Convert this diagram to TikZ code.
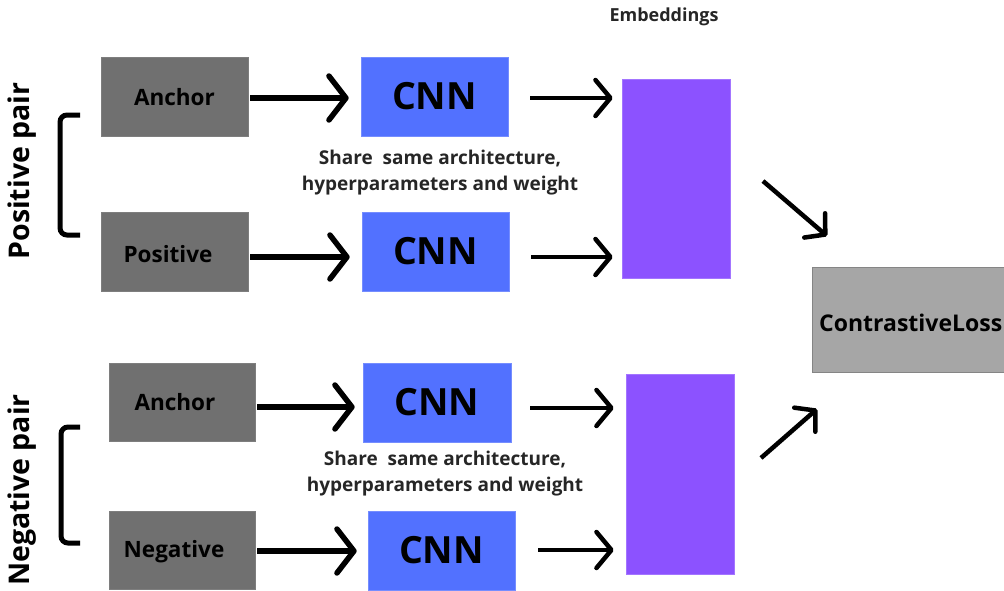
\documentclass[tikz,border=0pt]{standalone}
\usepackage{fontspec}
\setmainfont{Open Sans}
\usetikzlibrary{arrows.meta}
\definecolor{inputgray}{HTML}{707070}
\definecolor{cnnblue}{HTML}{5271FF}
\definecolor{embviolet}{HTML}{8C52FF}
\definecolor{lossgray}{HTML}{A6A6A6}
\tikzset{
  inputbox/.style={draw=inputgray!90!white, fill=inputgray, line width=0.6pt, minimum width=147pt, minimum height=79pt, inner sep=0pt},
  inputtext/.style={inner sep=0pt, font=\bfseries\fontsize{22.5}{26}\selectfont},
  cnnbox/.style={draw=cnnblue!80!white, fill=cnnblue, line width=0.6pt, minimum width=147pt, minimum height=79pt, inner sep=0pt, font=\bfseries\fontsize{37.5}{42}\selectfont},
  embbox/.style={draw=embviolet!80!white, fill=embviolet, line width=0.6pt, minimum width=108pt, minimum height=199pt, inner sep=0pt},
  sharenote/.style={align=center, inner sep=0pt, font=\bfseries\fontsize{19}{26}\selectfont, text=black!85},
  bigarrow/.style={line width=5.5pt, -{Straight Barb[length=17pt,width=44pt,line cap=round,line join=round]}},
  smallarrow/.style={line width=4.5pt, -{Straight Barb[length=15pt,width=36pt,line cap=round,line join=round]}},
  pairbracket/.style={line width=5pt, rounded corners=7pt},
  pairlabel/.style={rotate=90, inner sep=0pt, font=\bfseries\fontsize{28.5}{32}\selectfont}
}
\begin{document}
\begin{tikzpicture}[x=1pt, y=-1pt]
\useasboundingbox (0,0) rectangle (1004,590);
\clip (0,0) rectangle (1004,590);

% loss box runs off the right edge
\node[draw=lossgray!80!black, fill=lossgray, line width=0.6pt, minimum width=200pt, minimum height=105pt, inner sep=0pt] (loss) at (912,319.5) {};
\node[anchor=west, inner sep=0pt, font=\bfseries\fontsize{23}{26}\selectfont] (losstext) at (819,323) {ContrastiveLoss};

% positive pair
\node[inputbox] (anc1) at (174.5,96.5) {};
\node[inputtext] (anc1text) at (174.5,97) {Anchor};
\node[inputbox] (pos) at (174.5,251.5) {};
\node[inputtext] (postext) at (168,254) {Positive};
\node[cnnbox] (cnn1) at (434.5,96.5) {CNN};
\node[cnnbox] (cnn2) at (435.5,251.5) {CNN};
\node[embbox] (emb1) at (676,178.5) {};
\node[sharenote] (share1) at (440,173) {Share\ \ same architecture,\\hyperparameters and weight};
\node[inner sep=0pt, font=\bfseries\fontsize{18}{21}\selectfont, text=black!85] (embtitle) at (664,17) {Embeddings};

% negative pair
\node[inputbox, minimum width=146pt, minimum height=78pt] (anc2) at (182,402) {};
\node[inputtext] (anc2text) at (175,402) {Anchor};
\node[inputbox, minimum width=146pt, minimum height=78pt] (neg) at (182,550) {};
\node[inputtext] (negtext) at (174,552) {Negative};
\node[cnnbox, minimum width=148pt] (cnn3) at (437,402.5) {CNN};
\node[cnnbox] (cnn4) at (441.5,550.5) {CNN};
\node[embbox, minimum height=200pt] (emb2) at (680,474) {};
\node[sharenote] (share2) at (445,473.5) {Share\ \ same architecture,\\hyperparameters and weight};

% inputs into the CNNs
\draw[bigarrow, shorten <=2pt, shorten >=12pt] (anc1.east |- 0,98) -- (cnn1.west |- 0,98);
\draw[bigarrow, shorten <=2pt, shorten >=12pt] (pos.east |- 0,257) -- (cnn2.west |- 0,257);
\draw[bigarrow, shorten <=2pt, shorten >=8pt] (anc2.east |- 0,407) -- (cnn3.west |- 0,407);
\draw[bigarrow, shorten <=2pt, shorten >=11pt] (neg.east |- 0,551) -- (cnn4.west |- 0,551);

% CNNs into the embeddings
\draw[smallarrow, shorten <=22pt, shorten >=9pt] (cnn1.east |- 0,98) -- (emb1.west |- 0,98);
\draw[smallarrow, shorten <=22pt, shorten >=9pt] (cnn2.east |- 0,257) -- (emb1.west |- 0,257);
\draw[smallarrow, shorten <=19pt, shorten >=12pt] (cnn3.east |- 0,408) -- (emb2.west |- 0,408);
\draw[smallarrow, shorten <=23pt, shorten >=12pt] (cnn4.east |- 0,550) -- (emb2.west |- 0,550);

% embeddings into the loss
\coordinate (d1s) at (763,181);
\coordinate (d1e) at (827,236);
\coordinate (d2s) at (761,458);
\coordinate (d2e) at (817,409);
\draw[smallarrow, -{Straight Barb[length=14pt,width=32pt,line cap=round,line join=round]}] (d1s) -- (d1e);
\draw[smallarrow, -{Straight Barb[length=14pt,width=32pt,line cap=round,line join=round]}] (d2s) -- (d2e);

% pair brackets and labels
\draw[pairbracket] (80,115) -- (60,115) -- (60,235) -- (80,235);
\draw[pairbracket] (80,427) -- (61,427) -- (61,543) -- (80,543);
\node[pairlabel] (plabel) at (22,171) {Positive pair};
\node[pairlabel] (nlabel) at (22,490) {Negative pair};
\end{tikzpicture}
\end{document}
